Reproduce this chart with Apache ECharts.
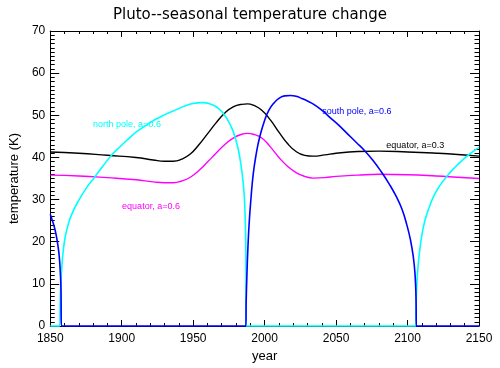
<!DOCTYPE html>
<html>
<head>
<meta charset="utf-8">
<script src="https://cdn.jsdelivr.net/npm/echarts@6/dist/echarts.min.js"></script>
<style>html,body{margin:0;padding:0;background:#fff;}#c{width:500px;height:368px;}</style>
</head>
<body>
<div id="c"></div>
<script>
// ---- data ----
var titleText = 'Pluto--seasonal temperature change';
var xName = 'year';
var yName = 'temperature (K)';

// equator, a=0.3 (black)
var eq03Years = [1850,1870,1890,1910,1922,1930,1936,1942,1948,1954,1960,1966,1972,1978,1984,1988,1992,1998,2004,2010,2016,2022,2028,2034,2042,2050,2065,2080,2100,2120,2135,2150];
var eq03Temps = [41.3,41.0,40.5,40.0,39.4,39.1,39.1,39.6,40.8,43.0,45.6,48.2,50.5,52.0,52.6,52.7,52.4,51.2,48.9,46.0,43.3,41.4,40.5,40.3,40.6,41.0,41.4,41.5,41.3,41.0,40.7,40.3];

// equator, a=0.6 (magenta)
var eq06Years = [1850,1870,1890,1910,1922,1930,1936,1942,1948,1954,1960,1966,1972,1978,1984,1988,1992,1998,2004,2010,2016,2022,2028,2034,2042,2050,2065,2080,2100,2120,2135,2150];
var eq06Temps = [35.8,35.6,35.2,34.7,34.2,34.0,34.0,34.4,35.3,36.9,38.9,41.0,43.0,44.6,45.5,45.7,45.5,44.6,42.5,40.0,37.9,36.4,35.5,35.1,35.2,35.5,35.8,36.0,35.9,35.6,35.3,35.0];

// north pole, a=0.6 (cyan)
var npYears = [1850,1855,1856.6,1857.0,1857.4,1858.0,1859,1860.4,1862.5,1865,1869.6,1875,1881,1887,1892.6,1899,1905,1910,1915.7,1921,1927,1933,1938.7,1944,1950,1956,1962,1967,1971,1974,1977,1979.5,1981.5,1983.3,1984.8,1985.8,1986.5,1986.9,1987.1,1988.5,2104.5,2105.8,2106.1,2106.5,2107.2,2108.2,2110,2112,2115,2118,2122,2127.7,2133,2139.2,2145,2150];
var npTemps = [0,0,0,6,10,13.5,17.5,21.0,24.0,26.5,29.6,32.6,35.3,38.0,40.4,42.6,44.5,46.0,47.3,48.5,49.6,50.6,51.4,52.2,52.8,53.0,52.7,51.8,50.5,49.0,47.0,44.6,42.0,38.6,34.6,30.5,24.5,16,0,0,0,0,6,10,13.5,17.0,21.5,24.8,28.0,30.6,33.0,35.6,37.6,39.6,41.2,42.4];

// south pole, a=0.6 (blue)
var spYears = [1850,1851.5,1853,1854.3,1855.4,1856.3,1857.0,1857.5,1857.8,1859,1985.5,1986.8,1987.1,1987.6,1988.3,1989.2,1990.5,1992,1994,1996.5,1999.8,2003,2006.7,2010,2014,2018.2,2022,2026,2030,2034.4,2040,2046,2052,2058,2064,2070,2076,2081.6,2087,2092,2096,2099.5,2102,2104,2105.2,2105.9,2106.2,2107.5,2150];
var spTemps = [26.5,25.0,23.3,21.3,19.0,16.5,13.0,9,0,0,0,0,6,12,18.5,24.5,30.5,36.0,40.6,44.8,48.6,51.2,53.0,54.0,54.6,54.7,54.5,54.0,53.4,52.6,51.2,49.4,47.6,45.6,43.6,41.6,39.2,36.6,33.8,30.8,27.8,24.0,20.5,16.5,12.5,7,0,0,0];

// curve labels: [text, year, temperature]
var labelNP = ['north pole, a=0.6', 1903.7, 47.9];
var labelEq06 = ['equator, a=0.6', 1920.5, 28.4];
var labelSP = ['south pole, a=0.6', 2064.6, 50.8];
var labelEq03 = ['equator, a=0.3', 2105.4, 42.8];

// ---- chart ----
function pairs(xs, ys) { return xs.map(function (x, i) { return [x, ys[i]]; }); }
function mk(lbl, color) {
  return {
    symbol: 'circle', symbolSize: 0, silent: true, animation: false,
    label: { show: true, position: 'inside', color: color, fontSize: 9,
             fontFamily: 'Liberation Sans', formatter: '{b}' },
    data: [{ name: lbl[0], coord: [lbl[1], lbl[2]] }]
  };
}
function lineSeries(name, xs, ys, color, lbl, noClip) {
  return {
    name: name, type: 'line', xAxisIndex: 0, yAxisIndex: 0,
    data: pairs(xs, ys), showSymbol: false, symbol: 'none', smooth: 0.5,
    clip: !noClip, z: 5,
    lineStyle: { color: color, width: noClip ? 1.6 : 1.4 }, itemStyle: { color: color },
    animation: false, markPoint: mk(lbl, color)
  };
}
var txtFont = 'Liberation Sans';
var frame = { show: true, onZero: false, lineStyle: { color: '#000', width: 1 } };
function xAx(pos, labels) {
  return {
    type: 'value', position: pos, min: 1850, max: 2150, interval: 50,
    axisLine: frame,
    axisTick: { show: true, inside: true, length: 6, lineStyle: { color: '#000' } },
    minorTick: { show: true, splitNumber: 5, length: 3, lineStyle: { color: '#000' } },
    axisLabel: { show: labels, color: '#000', fontSize: 12, fontFamily: txtFont, margin: 7,
                 formatter: function (v) { return String(v); } },
    splitLine: { show: false },
    name: labels ? xName : '', nameLocation: 'middle', nameGap: 24,
    nameTextStyle: { color: '#000', fontSize: 13, fontFamily: txtFont }
  };
}
function yAx(pos, labels) {
  return {
    type: 'value', position: pos, min: 0, max: 70, interval: 10,
    axisLine: frame,
    axisTick: { show: true, inside: true, length: 9, lineStyle: { color: '#000' } },
    minorTick: { show: true, splitNumber: 10, length: 4.5, lineStyle: { color: '#000' } },
    axisLabel: { show: labels, color: '#000', fontSize: 12, fontFamily: txtFont, margin: 5,
                 formatter: function (v) { return String(v); } },
    splitLine: { show: false },
    name: labels ? yName : '', nameLocation: 'middle', nameGap: 27, nameRotate: 90,
    nameTextStyle: { color: '#000', fontSize: 13, fontFamily: txtFont }
  };
}
var chart = echarts.init(document.getElementById('c'), null, { renderer: 'canvas' });
chart.setOption({
  backgroundColor: '#ffffff',
  animation: false,
  title: { text: titleText, left: 'center', top: 8, padding: 0,
           textStyle: { color: '#000', fontSize: 15, fontWeight: 'normal', fontFamily: 'DejaVu Sans' } },
  grid: { left: 45, right: 21, top: 31, bottom: 41, containLabel: false },
  xAxis: [xAx('bottom', true), xAx('top', false)],
  yAxis: [yAx('left', true), yAx('right', false)],
  series: [
    lineSeries('equator, a=0.3', eq03Years, eq03Temps, '#000000', labelEq03, false),
    lineSeries('equator, a=0.6', eq06Years, eq06Temps, '#ff00ff', labelEq06, false),
    lineSeries('north pole, a=0.6', npYears, npTemps, '#00ffff', labelNP, true),
    lineSeries('south pole, a=0.6', spYears, spTemps, '#0000ff', labelSP, true)
  ]
});
</script>
</body>
</html>
